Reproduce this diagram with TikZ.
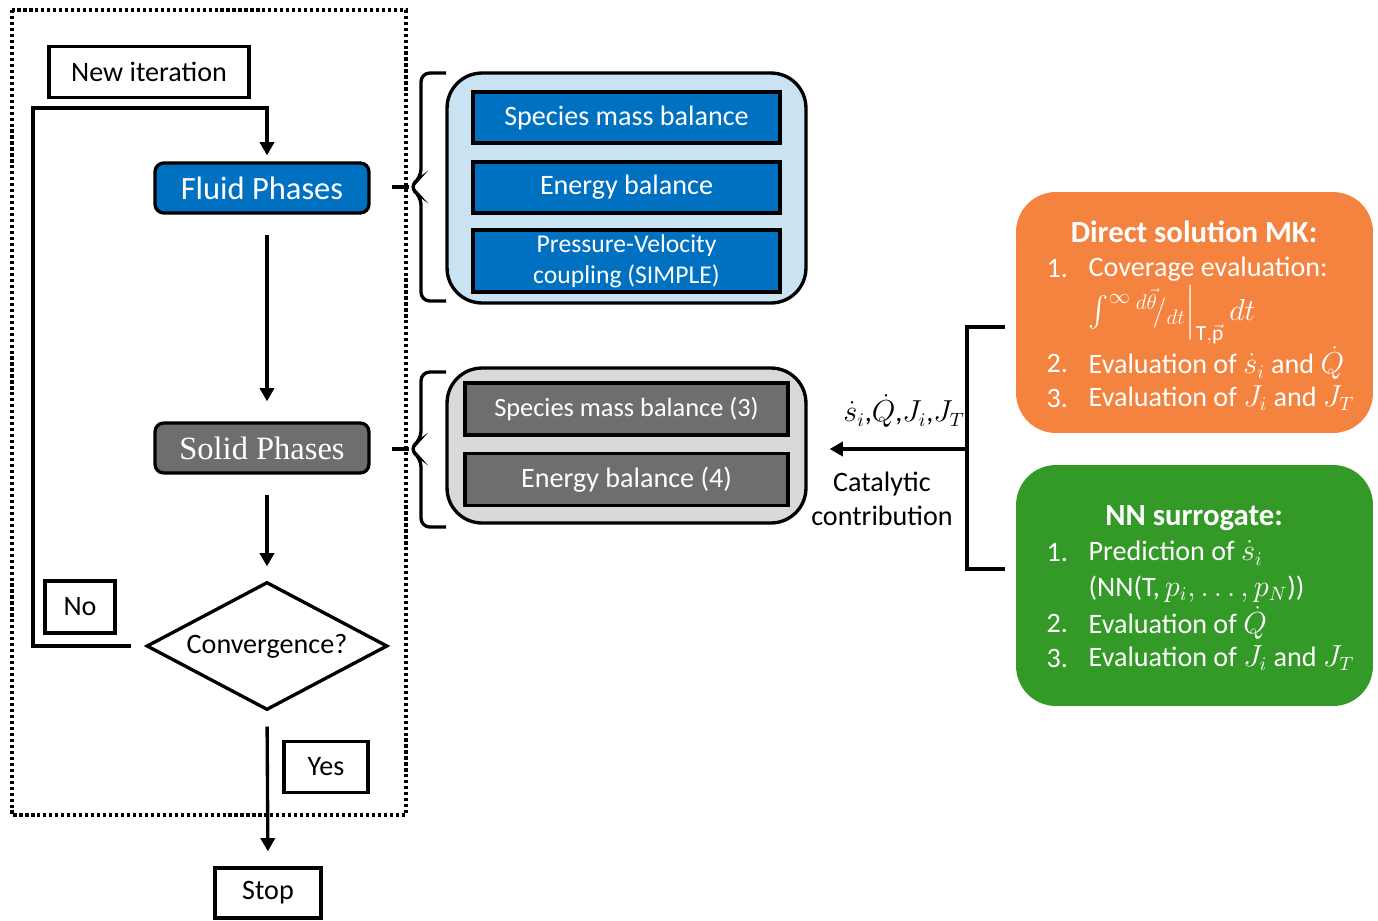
\documentclass[tikz,border=0pt]{standalone}
\usepackage{amsmath}
\usepackage{fontspec}
\setmainfont{Carlito}
\newfontfamily\timesfont{Liberation Serif}
\usetikzlibrary{arrows.meta,positioning,shapes.geometric,calc}

\definecolor{fluidblue}{HTML}{0070C0}
\definecolor{fluidpale}{HTML}{CAE3F3}
\definecolor{solidgray}{HTML}{6E6E6E}
\definecolor{solidpale}{HTML}{D9D9D9}
\definecolor{mkorange}{HTML}{F48340}
\definecolor{nngreen}{HTML}{349A27}

\begin{document}
\begin{tikzpicture}[x=0.02cm, y=-0.02cm, >={Triangle[length=7.5pt,width=8pt]}, line width=1.9pt,
    plainbox/.style={draw, fill=white, inner sep=0pt, font=\fontsize{16}{19}\selectfont},
    phasebox/.style={draw, rounded corners=5pt, text=white, inner sep=0pt,
                     minimum width=4.28cm, minimum height=1cm},
    eqbox/.style={draw, text=white, inner sep=0pt, align=center, font=\fontsize{16}{19}\selectfont},
    groupbox/.style={draw, rounded corners=0.7cm, inner sep=0pt, minimum width=7.18cm},
    methodbox/.style={rounded corners=0.8cm, inner sep=0pt, minimum width=7.14cm, minimum height=4.82cm},
    listitem/.style={anchor=west, inner sep=0pt, text=white, font=\fontsize{16}{19}\selectfont},
    gapped/.style={shorten <=0.4cm, shorten >=0.4cm}]
    			% Frame of the picture
    			\useasboundingbox (0,0) rectangle (1378,920);
    			\coordinate (spine) at (267,0);
    			
    			% Iteration loop (dotted frame)
    			\draw[line width=1.8pt, dash pattern=on 1.8pt off 1.6pt] (12,10) rectangle (406,815);
    			
    			% Flowchart
    			\node[plainbox, minimum width=4cm, minimum height=1.02cm] (newit) at (149,72) {New iteration};
    			\node[phasebox, fill=fluidblue, font=\fontsize{18.5}{22}\selectfont] (fluid) at (262,188) {Fluid Phases};
    			\node[phasebox, fill=solidgray, font=\timesfont\fontsize{18.5}{22}\selectfont] (solid) at (262,448) {Solid Phases};
    			\node[draw, diamond, aspect=1.9, inner sep=0pt, minimum width=4.82cm, minimum height=2.56cm,
    			      font=\fontsize{16}{19}\selectfont] (conv) at (267,646) {Convergence?};
    			\node[plainbox, minimum width=1.4cm, minimum height=1.04cm] (no) at (80,607) {No};
    			\node[plainbox, minimum width=1.68cm, minimum height=1.02cm] (yes) at (326,767) {Yes};
    			\node[plainbox, minimum width=2.12cm, minimum height=1cm] (stop) at (268,893) {Stop};
    			
    			% Connectors
    			\draw[->] ([xshift=-0.28cm]conv.west) -- (33,646) -- (33,108) -| ([yshift=0.12cm]fluid.north -| spine);
    			\draw[->, gapped] (fluid.south -| spine) -- (solid.north -| spine);
    			\draw[->, shorten <=0.4cm, shorten >=0.28cm] (solid.south -| spine) -- (conv.north);
    			\draw[->, shorten <=0.3cm, shorten >=0.3cm] (conv.south) -- (stop.north);
    			
    			% Fluid phase equations
    			\node[groupbox, fill=fluidpale, minimum height=4.6cm] (fluidgrp) at (626.5,188) {};
    			\node[eqbox, fill=fluidblue, minimum width=6.14cm, minimum height=1.02cm] (fmass) at (626.5,117.5) {Species mass balance};
    			\node[eqbox, fill=fluidblue, minimum width=6.14cm, minimum height=1.02cm] (fenergy) at (626.5,187.5) {Energy balance};
    			\node[eqbox, fill=fluidblue, minimum width=6.14cm, minimum height=1.24cm,
    			      font=\fontsize{14.6}{17.6}\selectfont] (fsimple) at (626.5,261) {Pressure-Velocity\\coupling (SIMPLE)};
    			\draw[rounded corners=5pt] (446,73) -- (421,73) -- (421,178) -- (409,187) -- (421,196) -- (421,301) -- (446,301);
    			\draw (392,187) -- (409,187);
    			
    			% Solid phase equations
    			\node[groupbox, fill=solidpale, minimum height=3.1cm] (solidgrp) at (626.5,445.5) {};
    			\node[eqbox, fill=solidgray, minimum width=6.46cm, minimum height=1.04cm,
    			      font=\fontsize{15}{18}\selectfont] (smass) at (626.5,409) {Species mass balance (3)};
    			\node[eqbox, fill=solidgray, minimum width=6.46cm, minimum height=1.04cm] (senergy) at (626.5,479.5) {Energy balance (4)};
    			\draw[rounded corners=5pt] (446,372) -- (421,372) -- (421,440) -- (409,449) -- (421,458) -- (421,527) -- (446,527);
    			\draw (392,449) -- (409,449);
    			
    			% Catalytic contribution
    			\draw (1005,327) -- (967,327) -- (967,569) -- (1005,569);
    			\coordinate (split) at (967,449);
    			\draw[->] (split) -- ([xshift=0.44cm]solidgrp.east |- split);
    			\node[font=\fontsize{16}{19}\selectfont] (rates) at (904,411) {$\dot{s}_i$,$\dot{Q}$,$J_i$,$J_T$};
    			\node[align=center, font=\fontsize{16}{19.5}\selectfont] (catlabel) at (882,499) {Catalytic\\contribution};
    			
    			% Direct solution of the microkinetic model
    			\node[methodbox, fill=mkorange] (mk) at (1194.5,312.5) {};
    			\node[text=white, font=\bfseries\fontsize{17.5}{21}\selectfont] (mktitle) at (1194,232) {Direct solution MK:};
    			\node[listitem] (mk1n) at (1045,269) {1.};
    			\node[listitem] (mk1) at (1087,269) {Coverage evaluation:};
    			\node[listitem, font=\fontsize{17.5}{21}\selectfont] (mkint) at (1087,315) {$\int^{\infty}{}^{d\vec{\theta}}\!/_{dt}\Big|_{\mathrm{T},\vec{\mathrm{p}}}\,dt$};
    			\node[listitem] (mk2n) at (1045,363) {2.};
    			\node[listitem] (mk2) at (1087,363) {Evaluation of $\dot{s}_i$ and $\dot{Q}$};
    			\node[listitem] (mk3n) at (1045,398) {3.};
    			\node[listitem] (mk3) at (1087,398) {Evaluation of $J_i$ and $J_T$};
    			
    			% Neural network surrogate
    			\node[methodbox, fill=nngreen] (nn) at (1194.5,585.5) {};
    			\node[text=white, font=\bfseries\fontsize{17.5}{21}\selectfont] (nntitle) at (1194,518) {NN surrogate:};
    			\node[listitem] (nn1n) at (1045,553) {1.};
    			\node[listitem] (nn1) at (1087,553) {Prediction of $\dot{s}_i$};
    			\node[listitem] (nnarg) at (1087,589) {(NN(T,$\,p_i, \ldots, p_N$))};
    			\node[listitem] (nn2n) at (1045,623) {2.};
    			\node[listitem] (nn2) at (1087,623) {Evaluation of $\dot{Q}$};
    			\node[listitem] (nn3n) at (1045,658) {3.};
    			\node[listitem] (nn3) at (1087,658) {Evaluation of $J_i$ and $J_T$};
    		\end{tikzpicture}
\end{document}
